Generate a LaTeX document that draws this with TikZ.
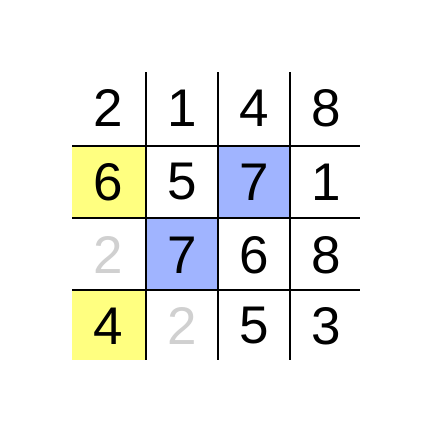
\documentclass[tikz,border=0pt]{standalone}
\usepackage{fontspec}
\setmainfont{Liberation Sans}
\definecolor{hlyellow}{HTML}{FFFF80}
\definecolor{hlblue}{HTML}{A0B4FF}
\definecolor{faded}{HTML}{D0D0D0}
\begin{document}
\begin{tikzpicture}[
  x=1pt, y=-1pt,
  d/.style={inner sep=0pt, font=\fontsize{53}{53}\selectfont},
  dim/.style={d, text=faded},
  grid/.style={line width=2.8pt},
  ycell/.style={fill=hlyellow},
  bcell/.style={fill=hlblue}
]
\useasboundingbox (0,0) rectangle (432,432);

% --- highlighted cells ---
\fill[ycell] (72,146) rectangle (146,218);
\fill[ycell] (72,290) rectangle (146,360);
\fill[bcell] (218,146) rectangle (290,218);
\fill[bcell] (146,218) rectangle (218,290);

% --- grid lines ---
\draw[grid] (146,72)--(146,360);
\draw[grid] (218,72)--(218,360);
\draw[grid] (290,72)--(290,360);
\draw[grid] (72,146)--(360,146);
\draw[grid] (72,218)--(360,218);
\draw[grid] (72,290)--(360,290);

% --- row 1 ---
\node[d] (a1) at (108,108) {2};
\node[d] (b1) at (182,108) {1};
\node[d] (c1) at (254,108) {4};
\node[d] (e1) at (326,108) {8};

% --- row 2 ---
\node[d] (a2) at (108,182) {6};
\node[d] (b2) at (182,182) {5};
\node[d] (c2) at (254,182) {7};
\node[d] (e2) at (326,182) {1};

% --- row 3 ---
\node[dim] (a3) at (108,255) {2};
\node[d] (b3) at (182,255) {7};
\node[d] (c3) at (254,255) {6};
\node[d] (e3) at (326,255) {8};

% --- row 4 ---
\node[d] (a4) at (108,326) {4};
\node[dim] (b4) at (182,326) {2};
\node[d] (c4) at (254,326) {5};
\node[d] (e4) at (326,326) {3};

\end{tikzpicture}
\end{document}
